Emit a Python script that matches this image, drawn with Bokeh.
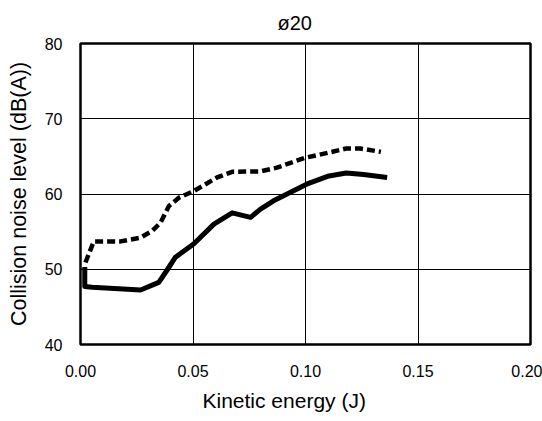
from bokeh.plotting import figure
from bokeh.models import Range1d, FixedTicker, NumeralTickFormatter, Title
from bokeh.embed import file_html
from bokeh.resources import INLINE

# ---- data ----
solid_x = [0.0019, 0.0019, 0.0052, 0.0267, 0.0348, 0.0385, 0.0422, 0.0504,
           0.0593, 0.0674, 0.0756, 0.0800, 0.0858, 0.1005, 0.1104, 0.1181,
           0.1258, 0.1363]
solid_y = [50.3, 47.7, 47.6, 47.25, 48.25, 49.9, 51.6, 53.4,
           56.0, 57.5, 56.9, 58.0, 59.1, 61.3, 62.4, 62.8,
           62.6, 62.2]
dash_x = [0.0022, 0.0059, 0.0178, 0.0267, 0.0319, 0.0356, 0.0393, 0.0437,
          0.0504, 0.0607, 0.0674, 0.0800, 0.0873, 0.0996, 0.1104, 0.1181,
          0.1243, 0.1335]
dash_y = [50.9, 53.7, 53.7, 54.2, 55.1, 56.2, 58.4, 59.5,
          60.4, 62.2, 62.95, 63.0, 63.5, 64.8, 65.5, 66.05,
          66.05, 65.6]
x_ticks = [0.0, 0.05, 0.10, 0.15, 0.20]
y_ticks = [40, 50, 60, 70, 80]
title_text = "ø20"
x_label = "Kinetic energy (J)"
y_label = "Collision noise level (dB(A))"

FONT = "Liberation Sans"

p = figure(width=542, height=421,
           x_range=Range1d(0, 0.2), y_range=Range1d(40, 80),
           output_backend="svg", toolbar_location=None,
           min_border_left=80, min_border_right=12,
           min_border_top=42, min_border_bottom=77)
p.background_fill_color = "white"
p.border_fill_color = "white"
p.outline_line_color = "black"
p.outline_line_width = 2.5
p.outline_line_alpha = 1.0

# chart title
p.add_layout(Title(text=title_text, align="left", offset=197,
                   text_font=FONT, text_font_size="20px",
                   text_font_style="normal", text_color="black",
                   standoff=19), "above")
# x axis label, as a title below the axis
p.add_layout(Title(text=x_label, align="left", offset=122,
                   text_font=FONT, text_font_size="21px",
                   text_font_style="normal", text_color="black",
                   standoff=14), "below")

for ax in (p.xaxis, p.yaxis):
    ax.axis_line_color = None
    ax.major_tick_in = 0
    ax.major_tick_out = 0
    ax.minor_tick_line_color = None
    ax.major_label_text_font = FONT
    ax.major_label_text_font_size = "16px"
    ax.major_label_text_color = "black"

p.xaxis.ticker = FixedTicker(ticks=x_ticks)
p.yaxis.ticker = FixedTicker(ticks=y_ticks)
p.xaxis.formatter = NumeralTickFormatter(format="0.00")
p.xaxis.major_label_standoff = 20
p.yaxis.major_label_standoff = 18

p.yaxis.axis_label = y_label
p.yaxis.axis_label_text_font = FONT
p.yaxis.axis_label_text_font_size = "21.5px"
p.yaxis.axis_label_text_font_style = "normal"
p.yaxis.axis_label_text_color = "black"
p.yaxis.axis_label_standoff = 11

p.xgrid.ticker = FixedTicker(ticks=x_ticks)
p.ygrid.ticker = FixedTicker(ticks=y_ticks)
for g in (p.xgrid, p.ygrid):
    g.grid_line_color = "black"
    g.grid_line_width = 1
    g.grid_line_alpha = 1.0

p.line(dash_x, dash_y, line_color="black", line_width=4.5, line_dash="8 4")
p.line(solid_x, solid_y, line_color="black", line_width=5, line_join="round")

open("out.html", "w").write(file_html(p, INLINE))
